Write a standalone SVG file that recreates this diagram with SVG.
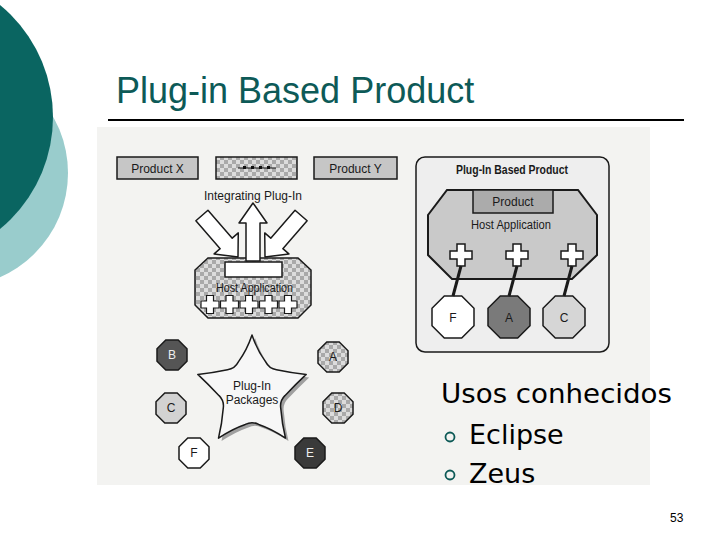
<svg xmlns="http://www.w3.org/2000/svg" width="720" height="540" viewBox="0 0 720 540">
<defs>
<style>
.lbl{font-family:"Liberation Sans",Arial,sans-serif;font-size:12px;fill:#1a1a1a;text-anchor:middle}
.ln{stroke:#1a1a1a;stroke-width:1.5}
.big{font-family:"DejaVu Sans","Lucida Sans",sans-serif;fill:#000}
</style>
<pattern id="chk" width="8" height="8" patternUnits="userSpaceOnUse">
<rect width="8" height="8" fill="#dcdcdc"/>
<rect width="4" height="4" fill="#a9a9a9"/>
<rect x="4" y="4" width="4" height="4" fill="#a9a9a9"/>
</pattern>
<polygon id="octS" points="15,6.2 6.2,15 -6.2,15 -15,6.2 -15,-6.2 -6.2,-15 6.2,-15 15,-6.2"/>
<polygon id="octL" points="21,8.7 8.7,21 -8.7,21 -21,8.7 -21,-8.7 -8.7,-21 8.7,-21 21,-8.7"/>
<path id="plusS" d="M-3.5,-9h7v5.5h5.5v7h-5.5v5.5h-7v-5.5h-5.5v-7h5.5z"/>
<path id="plusL" d="M-4,-11h8v7h7v8h-7v7h-8v-7h-7v-8h7z"/>
<path id="star" d="M0,-57 Q5,-42 13.64,-30.17 Q17.05,-23.46 24.48,-22.29 Q40,-19 54.2,-17.6 Q44,-8 32.9,3.65 Q27.58,8.96 28.76,16.39 Q30,32 33.5,46.1 Q20,37 6.7,32.42 Q0,29 -6.7,32.42 Q-20,37 -33.5,46.1 Q-30,32 -28.76,16.39 Q-27.58,8.96 -32.9,3.65 Q-44,-8 -54.2,-17.6 Q-40,-19 -24.48,-22.29 Q-17.05,-23.46 -13.64,-30.17 Q-5,-42 0,-57Z" stroke-linejoin="round"/>
</defs>

<!-- slide decoration -->
<circle cx="-46" cy="173" r="114" fill="#99cccc"/>
<circle cx="-92" cy="117" r="145" fill="#0a6561"/>
<text x="116" y="103" font-family="Liberation Sans,Arial,sans-serif" font-size="36" fill="#0d5a57">Plug-in Based Product</text>
<line x1="108" y1="120" x2="684" y2="120" stroke="#000" stroke-width="2"/>

<!-- scanned figure background -->
<rect x="97" y="127" width="553" height="358" fill="#f3f3f1"/>

<!-- left diagram -->
<g id="productX">
<rect x="117" y="157" width="81" height="22" fill="#c6c6c6" class="ln"/>
<text class="lbl" x="157.5" y="172.5">Product X</text>
</g>
<g id="integratingPlugin">
<rect x="216" y="157" width="81" height="22" fill="url(#chk)" class="ln"/>
<line x1="238" y1="168" x2="276" y2="168" stroke="#111" stroke-width="1.2"/>
<rect x="243" y="166" width="3" height="3" fill="#111"/>
<rect x="251" y="166" width="3" height="3" fill="#111"/>
<rect x="259" y="166" width="3" height="3" fill="#111"/>
<rect x="267" y="166" width="3" height="3" fill="#111"/>
<text class="lbl" x="253" y="200">Integrating Plug-In</text>
</g>
<g id="productY">
<rect x="314" y="157" width="83" height="22" fill="#c6c6c6" class="ln"/>
<text class="lbl" x="355.5" y="172.5">Product Y</text>
</g>

<g id="hostApplicationLeft">
<polygon points="208,258 298,258 311,270 311,305 298,318 208,318 195,305 195,270" fill="url(#chk)" class="ln"/>
<rect x="225" y="262" width="57" height="15" fill="#fff" class="ln"/>
<text class="lbl" x="254.5" y="292" textLength="77" lengthAdjust="spacingAndGlyphs">Host Application</text>
<use href="#plusS" x="210" y="304.5" fill="#fff" stroke="#1a1a1a" stroke-width="1.2"/>
<use href="#plusS" x="229.5" y="304.5" fill="#fff" stroke="#1a1a1a" stroke-width="1.2"/>
<use href="#plusS" x="249" y="304.5" fill="#fff" stroke="#1a1a1a" stroke-width="1.2"/>
<use href="#plusS" x="268.5" y="304.5" fill="#fff" stroke="#1a1a1a" stroke-width="1.2"/>
<use href="#plusS" x="288" y="304.5" fill="#fff" stroke="#1a1a1a" stroke-width="1.2"/>
</g>

<g id="pluginPackages">
<use href="#star" x="255" y="395" fill="#a0a0a0"/>
<use href="#star" x="252" y="392" fill="#f7f7f7" class="ln"/>
<text class="lbl" x="252" y="390">Plug-In</text>
<text class="lbl" x="252" y="404">Packages</text>
</g>

<g id="octB"><use href="#octS" x="172" y="355" fill="#555" class="ln"/><text class="lbl" x="172" y="359" style="fill:#eee">B</text></g>
<g id="octA"><use href="#octS" x="333" y="357" fill="url(#chk)" class="ln"/><text class="lbl" x="333" y="361">A</text></g>
<g id="octC"><use href="#octS" x="171" y="408" fill="#d2d2d2" class="ln"/><text class="lbl" x="171" y="412">C</text></g>
<g id="octD"><use href="#octS" x="338" y="408" fill="url(#chk)" class="ln"/><text class="lbl" x="338" y="412">D</text></g>
<g id="octF"><use href="#octS" x="194" y="453" fill="#fff" class="ln"/><text class="lbl" x="194" y="457">F</text></g>
<g id="octE"><use href="#octS" x="310" y="453" fill="#3a3a3a" class="ln"/><text class="lbl" x="310" y="457" style="fill:#eee">E</text></g>

<!-- right diagram -->
<g id="pluginBasedProduct">
<rect x="416" y="157" width="193" height="195" rx="9" fill="#eeeeee" stroke="#1a1a1a" stroke-width="1.5"/>
<text class="lbl" x="512" y="174" font-weight="bold" textLength="112" lengthAdjust="spacingAndGlyphs">Plug-In Based Product</text>
</g>
<g id="hostApplicationRight">
<polygon points="447,190 578,190 597,215 597,255 572,279 452,279 428,255 428,215" fill="#c9c9c9" stroke="#1a1a1a" stroke-width="2"/>
<rect x="473" y="190" width="80" height="23" fill="#ababab" stroke="#1a1a1a" stroke-width="1.5"/>
<text class="lbl" x="513" y="206">Product</text>
<text class="lbl" x="511" y="229" textLength="80" lengthAdjust="spacingAndGlyphs">Host Application</text>
<use href="#plusL" x="461" y="255" fill="#fff" stroke="#1a1a1a" stroke-width="1.5"/>
<use href="#plusL" x="517" y="255" fill="#fff" stroke="#1a1a1a" stroke-width="1.5"/>
<use href="#plusL" x="572" y="255" fill="#fff" stroke="#1a1a1a" stroke-width="1.5"/>
</g>
<g id="rightF"><use href="#octL" x="453" y="317" fill="#fff" stroke="#1a1a1a" stroke-width="1.5"/><text class="lbl" x="453" y="322">F</text></g>
<g id="rightA"><use href="#octL" x="509" y="317" fill="#7a7a7a" stroke="#1a1a1a" stroke-width="1.5"/><text class="lbl" x="509" y="322">A</text></g>
<g id="rightC"><use href="#octL" x="564" y="317" fill="#d6d6d6" stroke="#1a1a1a" stroke-width="1.5"/><text class="lbl" x="564" y="322">C</text></g>

<g id="connectors">
<path transform="translate(238,257) rotate(49)" d="M-55,-8H-18V-16L0,0L-18,16V8H-55Z" fill="#fff" class="ln" stroke-linejoin="round"/>
<path transform="translate(253,203) rotate(-90)" d="M-58,-7H-20V-14L0,0L-20,14V7H-58Z" fill="#fff" class="ln" stroke-linejoin="round"/>
<path transform="translate(265,257) rotate(131)" d="M-55,-8H-18V-16L0,0L-18,16V8H-55Z" fill="#fff" class="ln" stroke-linejoin="round"/>
<line x1="461" y1="266" x2="453" y2="296" stroke="#1a1a1a" stroke-width="3"/>
<line x1="517" y1="266" x2="509" y2="296" stroke="#1a1a1a" stroke-width="3"/>
<line x1="572" y1="266" x2="564" y2="296" stroke="#1a1a1a" stroke-width="3"/>
</g>

<!-- slide text -->
<text class="big" x="441" y="403" font-size="27" textLength="231" lengthAdjust="spacingAndGlyphs">Usos conhecidos</text>
<circle cx="450" cy="437" r="4.5" fill="none" stroke="#0d5a57" stroke-width="1.8"/>
<text class="big" x="469" y="444" font-size="27">Eclipse</text>
<circle cx="450" cy="475" r="4.5" fill="none" stroke="#0d5a57" stroke-width="1.8"/>
<text class="big" x="469" y="483" font-size="27">Zeus</text>
<text x="670" y="522" font-family="Liberation Sans,Arial,sans-serif" font-size="12" fill="#000">53</text>
</svg>
